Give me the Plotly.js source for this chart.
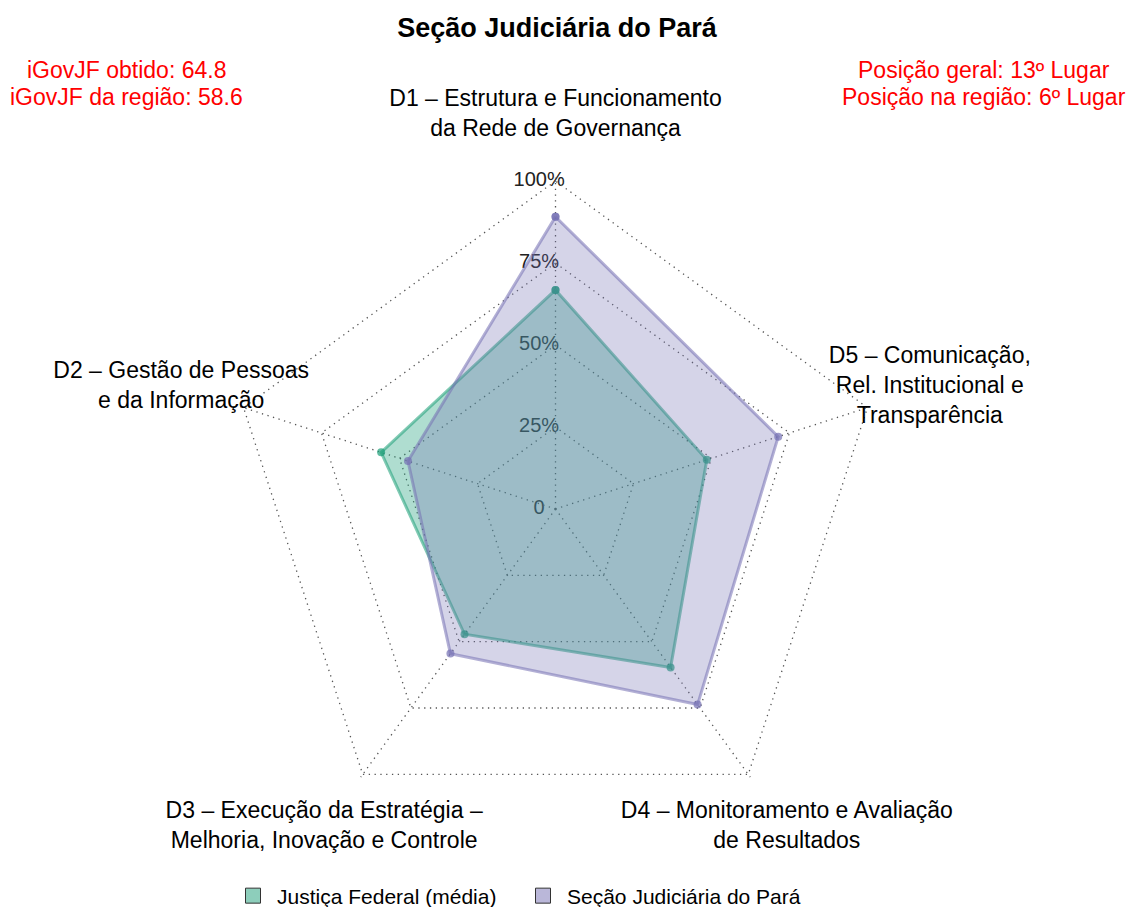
<!DOCTYPE html>
<html>
<head>
<meta charset="utf-8">
<script src="https://cdn.plot.ly/plotly-3.0.1.min.js"></script>
<style>html,body{margin:0;padding:0;background:#fff;}#chart{width:1128px;height:907px;}</style>
</head>
<body>
<div id="chart"></div>
<script>
// ---- data ----
const dimKeys = ["D1", "D2", "D3", "D4", "D5"];
const dimLabels = [
  "D1 – Estrutura e Funcionamento<br>da Rede de Governança",
  "D2 – Gestão de Pessoas<br>e da Informação",
  "D3 – Execução da Estratégia –<br>Melhoria, Inovação e Controle",
  "D4 – Monitoramento e Avaliação<br>de Resultados",
  "D5 – Comunicação,<br>Rel. Institucional e<br>Transparência"
];
const seriesNames = ["Justiça Federal (média)", "Seção Judiciária do Pará"];
const justicaFederal = [66.8, 55.9, 47.2, 59.7, 48.5];
const secaoPara = [89.1, 47.3, 54.5, 73.7, 71.4];
const radialTicks = [0, 25, 50, 75, 100];
const radialTickText = ["0", "25%", "50%", "75%", "100%"];
const chartTitle = "Seção Judiciária do Pará";
const leftInfo = ["iGovJF obtido: 64.8", "iGovJF da região: 58.6"];
const rightInfo = ["Posição geral: 13º Lugar", "Posição na região: 6º Lugar"];

// ---- style / layout geometry ----
const W = 1128, H = 907;
const FONT = "Liberation Sans, Arial, Helvetica, sans-serif";
const green = "27,158,119";
const purple = "117,112,179";
const CX = 555.5, CY = 509, PX_PER_UNIT = 3.28;
const RMAX = 101, LABEL_R = 120, RMAX2 = 121;

function domainFor(rmax) {
  const rad = rmax * PX_PER_UNIT;
  return {x: [(CX - rad) / W, (CX + rad) / W], y: [1 - (CY + rad) / H, 1 - (CY - rad) / H]};
}
const dom = domainFor(RMAX);
const dom2 = domainFor(RMAX2);

function closed(a) { return a.concat([a[0]]); }

const traces = [];

// radial tick labels (cartesian overlay beneath the polygons)
traces.push({
  type: "scatter", mode: "text", xaxis: "x", yaxis: "y",
  x: radialTicks.map(() => -5), y: radialTicks,
  text: radialTickText, textposition: "middle center",
  textfont: {family: FONT, size: 20, color: "#222"},
  hoverinfo: "skip", showlegend: false, cliponaxis: false
});

function polyTrace(vals, rgb, fillA, name) {
  return {
    type: "scatterpolar", subplot: "polar",
    r: closed(vals), theta: closed(dimKeys),
    mode: "lines+markers", fill: "toself",
    fillcolor: "rgba(" + rgb + "," + fillA + ")",
    line: {color: "rgba(" + rgb + ",0.55)", width: 3},
    marker: {color: "rgba(" + rgb + ",0.7)", size: 8},
    name: name, showlegend: false, hoverinfo: "r+theta", cliponaxis: false
  };
}
traces.push(polyTrace(justicaFederal, green, 0.35, seriesNames[0]));
traces.push(polyTrace(secaoPara, purple, 0.3, seriesNames[1]));

// axis labels on an invisible, same-scale, larger polar
traces.push({
  type: "scatterpolar", subplot: "polar2", mode: "text",
  r: dimKeys.map(() => LABEL_R), theta: dimKeys,
  text: dimLabels, textposition: "middle center",
  textfont: {family: FONT, size: 23, color: "#000"},
  hoverinfo: "skip", showlegend: false, cliponaxis: false
});

// legend entries
[[green, seriesNames[0]], [purple, seriesNames[1]]].forEach(function (d) {
  traces.push({
    type: "scatter", mode: "markers", xaxis: "x", yaxis: "y",
    x: [null], y: [null], name: d[1], showlegend: true,
    marker: {symbol: "square", size: 15, color: "rgba(" + d[0] + ",0.5)", line: {color: "#333", width: 1}}
  });
});

const annotations = [];
[[leftInfo, 126], [rightInfo, 983.5]].forEach(function (g) {
  g[0].forEach(function (t, i) {
    annotations.push({text: t, xref: "paper", yref: "paper", x: g[1] / W, y: 1 - (70 + 27 * i) / H,
      xanchor: "center", yanchor: "middle", showarrow: false,
      font: {family: FONT, size: 23, color: "#ff0000"}});
  });
});

const hiddenAngular = {type: "category", categoryarray: dimKeys, rotation: 90, direction: "counterclockwise"};

const layout = {
  width: W, height: H,
  margin: {l: 0, r: 0, t: 0, b: 0, autoexpand: false},
  paper_bgcolor: "#fff", plot_bgcolor: "rgba(0,0,0,0)",
  font: {family: FONT, color: "#000"},
  title: {text: "<b>" + chartTitle + "</b>", x: 557 / W, y: 1 - 28 / H, xanchor: "center", yanchor: "middle",
          font: {family: FONT, size: 27, color: "#000"}},
  showlegend: true,
  legend: {orientation: "h", xref: "container", yref: "container", x: 519 / W, xanchor: "center",
           y: 1 - 896 / H, yanchor: "middle",
           font: {family: FONT, size: 21, color: "#000"}, bgcolor: "rgba(0,0,0,0)",
           itemwidth: 38, entrywidth: 237},
  xaxis: {domain: dom.x, range: [-RMAX, RMAX], visible: false, fixedrange: true},
  yaxis: {domain: dom.y, range: [-RMAX, RMAX], visible: false, fixedrange: true},
  polar: {
    domain: dom, bgcolor: "rgba(0,0,0,0)", gridshape: "linear",
    radialaxis: {range: [0, RMAX], tickvals: radialTicks.slice(1), showticklabels: false, ticks: "",
                 showline: false, showgrid: true, gridcolor: "#555", griddash: "1.3px,4.5px", gridwidth: 1.3},
    angularaxis: Object.assign({}, hiddenAngular, {showticklabels: false, ticks: "", showline: false, showgrid: true,
                  gridcolor: "#555", griddash: "1.3px,4.5px", gridwidth: 1.3})
  },
  polar2: {
    domain: dom2, bgcolor: "rgba(0,0,0,0)",
    radialaxis: {range: [0, RMAX2], visible: false},
    angularaxis: Object.assign({}, hiddenAngular, {visible: false})
  },
  annotations: annotations
};

Plotly.newPlot("chart", traces, layout, {displayModeBar: false, staticPlot: true});
</script>
</body>
</html>
